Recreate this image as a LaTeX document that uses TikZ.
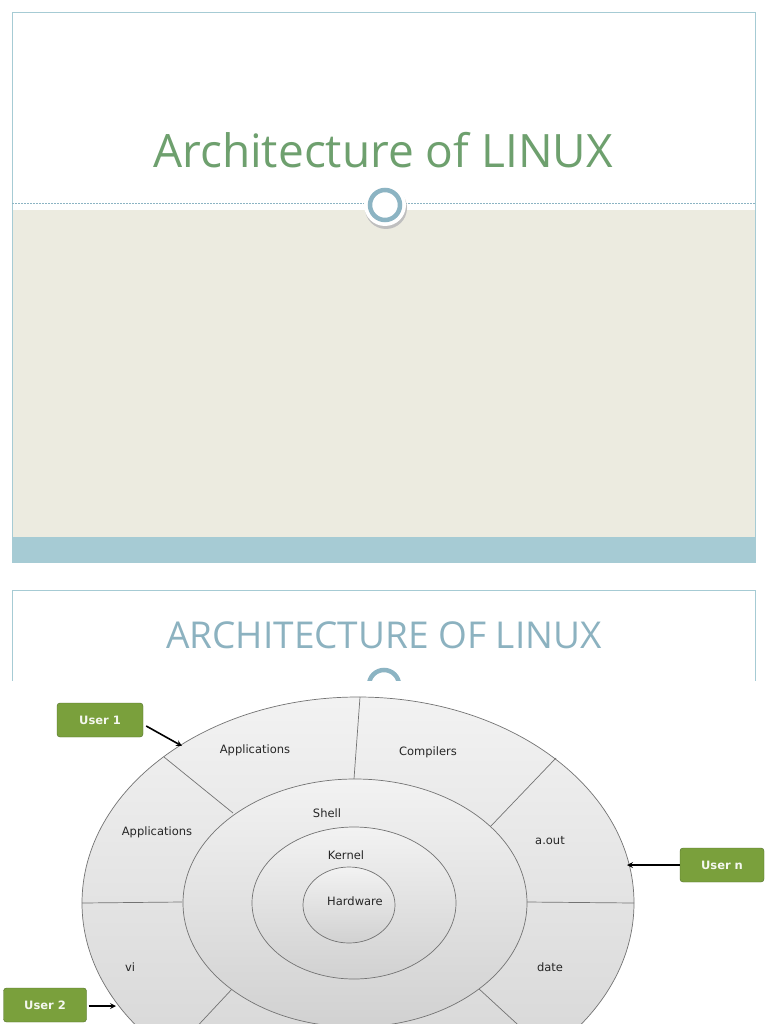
\documentclass[tikz,border=0pt]{standalone}
\usepackage{fontspec}
\setmainfont{Open Sans}
\newfontfamily\lab{DejaVu Sans}
\definecolor{beige}{RGB}{236,235,224}
\definecolor{band}{RGB}{166,203,212}
\definecolor{ringc}{RGB}{140,180,195}
\definecolor{titg}{RGB}{110,160,110}
\definecolor{titb}{RGB}{140,178,192}
\definecolor{ugreen}{RGB}{122,160,60}
\definecolor{ugreend}{RGB}{80,110,40}
\begin{document}
\begin{tikzpicture}[x=1pt,y=-1pt,
  lbl/.style={font=\lab\fontsize{11.5}{13}\selectfont, text=black!85},
  user/.style={draw=ugreend, fill=ugreen, rounded corners=3pt, minimum width=86pt, minimum height=34pt, text=white!92!ugreen, font=\lab\bfseries\fontsize{11.5}{13}\selectfont},
  ring/.style={draw=black!55, line width=0.7pt},
  arr/.style={-stealth, line width=1.6pt}]
\useasboundingbox (0,0) rectangle (768,1024);
\fill[white] (0,0) rectangle (768,1024);
% slide 1
\fill[beige] (12,210) rectangle (755,537);
\fill[band] (12,537) rectangle (755,562);
\draw[band, line width=0.7pt] (12,12) rectangle (755,562);
\draw[ringc, dash pattern=on 2pt off 1pt] (12,203) -- (755,203);
\node[font=\fontsize{46}{52}\selectfont, text=titg] (t1) at (383,150) {Architecture of LINUX};
\fill[black!25] (386,208) circle (21);
\fill[white] (385,205) circle (21);
\draw[ringc, line width=4.5pt] (385,205) circle (15);
% slide 2
\draw[band, line width=0.7pt] (12,681) -- (12,590) -- (755,590) -- (755,681);
\node[font=\fontsize{37}{42}\selectfont, text=titb] (t2) at (384,635) {ARCHITECTURE OF LINUX};
\begin{scope}
\clip (300,650) rectangle (470,681);
\fill[white] (384,685) circle (21);
\draw[ringc, line width=4.5pt] (384,685) circle (15);
\end{scope}
% diagram
\begin{scope}
\clip (0,681) rectangle (768,1024);
\fill[white] (0,681) rectangle (768,1024);
\draw[ring, top color=black!5, bottom color=black!17] (358,903) ellipse [x radius=276, y radius=206];
\draw[ring] (360,697) -- (354,779);
\draw[ring] (164,757) -- (233,813);
\draw[ring] (556,758) -- (490,827);
\draw[ring] (82,903) -- (182,902);
\draw[ring] (527,902) -- (634,903);
\draw[ring] (233,988) -- (190,1034);
\draw[ring] (478,988) -- (528,1034);
\draw[ring, top color=black!5, bottom color=black!18] (355,903) ellipse [x radius=172, y radius=124];
\draw[ring, top color=black!5, bottom color=black!18] (354,903) ellipse [x radius=102, y radius=76];
\draw[ring, top color=black!5, bottom color=black!18] (349,905) ellipse [x radius=46, y radius=38];
\end{scope}
\node[lbl] (a1) at (255,750) {Applications};
\node[lbl] (cp) at (428,752) {Compilers};
\node[lbl] (a2) at (157,832) {Applications};
\node[lbl] (sh) at (327,813) {Shell};
\node[lbl] (kn) at (346,855) {Kernel};
\node[lbl] (hw) at (355,901) {Hardware};
\node[lbl] (ao) at (550,841) {a.out};
\node[lbl] (vi) at (130,967) {vi};
\node[lbl] (dt) at (550,967) {date};
\node[user] (u1) at (100,720) {User 1};
\node[user, minimum width=84pt] (un) at (722,865) {User n};
\node[user, minimum width=83pt] (u2) at (45,1005) {User 2};
\coordinate (p1) at (182,746);
\coordinate (pn) at (627,865);
\coordinate (p2) at (116,1006);
\draw[arr] (u1.east) ++(3,6) -- (p1);
\draw[arr] (un.west) -- (pn);
\draw[arr] (u2.east) ++(2,1) -- (p2);
\end{tikzpicture}
\end{document}
